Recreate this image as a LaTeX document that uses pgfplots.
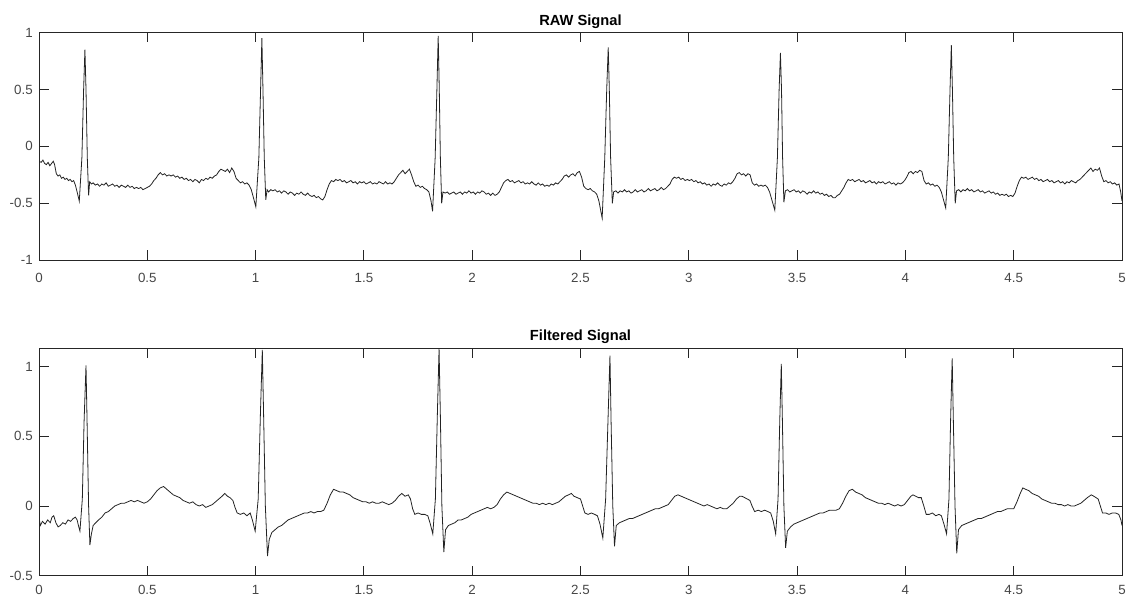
\documentclass[border=0pt]{standalone}
\usepackage{pgfplots}
\pgfplotsset{compat=1.18}
\usepackage{pgfplotstable}
\usepackage{fontspec}
\setmainfont{Liberation Sans}

\definecolor{axgray}{RGB}{38,38,38}
\definecolor{lblgray}{RGB}{70,70,70}
\definecolor{sig}{RGB}{35,35,35}

% raw ECG
\pgfplotstableread{
t y
0.000 -0.13
0.010 -0.14
0.018 -0.12
0.026 -0.15
0.034 -0.16
0.042 -0.14
0.050 -0.17
0.058 -0.15
0.066 -0.13
0.072 -0.16
0.080 -0.24
0.088 -0.26
0.096 -0.25
0.104 -0.28
0.112 -0.27
0.120 -0.29
0.128 -0.28
0.136 -0.30
0.144 -0.29
0.152 -0.31
0.160 -0.30
0.168 -0.34
0.176 -0.40
0.186 -0.48
0.198 -0.10
0.206 0.50
0.212 0.85
0.217 0.50
0.223 -0.10
0.229 -0.43
0.234 -0.31
0.242 -0.33
0.250 -0.32
0.260 -0.34
0.270 -0.33
0.280 -0.35
0.290 -0.33
0.300 -0.34
0.310 -0.32
0.320 -0.35
0.330 -0.34
0.340 -0.33
0.350 -0.35
0.360 -0.34
0.370 -0.36
0.380 -0.34
0.390 -0.35
0.400 -0.36
0.410 -0.34
0.420 -0.36
0.430 -0.35
0.440 -0.37
0.450 -0.36
0.460 -0.37
0.470 -0.36
0.480 -0.38
0.490 -0.37
0.500 -0.36
0.510 -0.35
0.520 -0.33
0.530 -0.30
0.540 -0.28
0.550 -0.25
0.560 -0.23
0.570 -0.25
0.580 -0.24
0.590 -0.26
0.600 -0.25
0.610 -0.26
0.620 -0.25
0.630 -0.27
0.640 -0.26
0.650 -0.28
0.660 -0.27
0.670 -0.29
0.680 -0.28
0.690 -0.30
0.700 -0.29
0.710 -0.31
0.720 -0.29
0.730 -0.30
0.740 -0.32
0.750 -0.29
0.760 -0.30
0.770 -0.28
0.780 -0.29
0.790 -0.27
0.800 -0.28
0.810 -0.26
0.820 -0.25
0.830 -0.22
0.840 -0.20
0.850 -0.21
0.860 -0.22
0.870 -0.20
0.880 -0.23
0.890 -0.19
0.900 -0.22
0.910 -0.28
0.920 -0.30
0.930 -0.32
0.940 -0.31
0.950 -0.33
0.960 -0.32
0.970 -0.34
0.980 -0.38
0.990 -0.45
1.001 -0.53
1.015 -0.10
1.023 0.50
1.029 0.95
1.034 0.50
1.040 -0.10
1.047 -0.47
1.053 -0.38
1.060 -0.40
1.070 -0.38
1.080 -0.39
1.090 -0.38
1.100 -0.40
1.110 -0.39
1.120 -0.41
1.130 -0.39
1.140 -0.40
1.150 -0.42
1.160 -0.40
1.170 -0.41
1.180 -0.43
1.190 -0.41
1.200 -0.42
1.210 -0.40
1.220 -0.42
1.230 -0.43
1.240 -0.41
1.250 -0.43
1.260 -0.44
1.270 -0.43
1.280 -0.45
1.290 -0.44
1.300 -0.46
1.310 -0.47
1.320 -0.44
1.330 -0.38
1.340 -0.33
1.350 -0.30
1.360 -0.31
1.370 -0.29
1.380 -0.30
1.390 -0.29
1.400 -0.31
1.410 -0.30
1.420 -0.32
1.430 -0.31
1.440 -0.30
1.450 -0.32
1.460 -0.31
1.470 -0.33
1.480 -0.31
1.490 -0.32
1.500 -0.31
1.510 -0.33
1.520 -0.32
1.530 -0.31
1.540 -0.33
1.550 -0.32
1.560 -0.33
1.570 -0.31
1.580 -0.32
1.590 -0.33
1.600 -0.31
1.610 -0.33
1.620 -0.32
1.630 -0.33
1.640 -0.31
1.650 -0.28
1.660 -0.25
1.670 -0.23
1.680 -0.21
1.690 -0.24
1.700 -0.22
1.710 -0.20
1.720 -0.25
1.730 -0.31
1.740 -0.35
1.750 -0.34
1.760 -0.36
1.770 -0.35
1.780 -0.37
1.790 -0.38
1.800 -0.40
1.810 -0.48
1.817 -0.57
1.829 -0.10
1.837 0.50
1.843 0.97
1.848 0.50
1.853 -0.10
1.859 -0.50
1.865 -0.40
1.875 -0.41
1.885 -0.40
1.895 -0.42
1.905 -0.41
1.915 -0.40
1.925 -0.42
1.935 -0.41
1.945 -0.40
1.955 -0.42
1.965 -0.40
1.975 -0.41
1.985 -0.39
1.995 -0.41
2.005 -0.40
2.015 -0.42
2.025 -0.40
2.035 -0.41
2.045 -0.39
2.055 -0.40
2.065 -0.42
2.075 -0.41
2.085 -0.43
2.095 -0.41
2.105 -0.43
2.115 -0.42
2.125 -0.40
2.135 -0.36
2.145 -0.32
2.155 -0.30
2.165 -0.29
2.175 -0.31
2.185 -0.30
2.195 -0.32
2.205 -0.31
2.215 -0.30
2.225 -0.32
2.235 -0.31
2.245 -0.33
2.255 -0.32
2.265 -0.33
2.275 -0.31
2.285 -0.33
2.295 -0.34
2.305 -0.32
2.315 -0.34
2.325 -0.33
2.335 -0.35
2.345 -0.34
2.355 -0.35
2.365 -0.33
2.375 -0.34
2.385 -0.32
2.395 -0.33
2.405 -0.31
2.415 -0.29
2.425 -0.26
2.435 -0.25
2.445 -0.27
2.455 -0.25
2.465 -0.24
2.475 -0.26
2.485 -0.23
2.495 -0.22
2.505 -0.27
2.515 -0.35
2.525 -0.37
2.535 -0.38
2.545 -0.37
2.555 -0.39
2.565 -0.40
2.575 -0.42
2.585 -0.48
2.600 -0.63
2.612 -0.10
2.621 0.50
2.628 0.87
2.633 0.50
2.639 -0.10
2.647 -0.50
2.653 -0.40
2.663 -0.39
2.673 -0.41
2.683 -0.39
2.693 -0.40
2.703 -0.38
2.713 -0.40
2.723 -0.39
2.733 -0.41
2.743 -0.40
2.753 -0.38
2.763 -0.40
2.773 -0.39
2.783 -0.38
2.793 -0.40
2.803 -0.39
2.813 -0.37
2.823 -0.39
2.833 -0.38
2.843 -0.37
2.853 -0.39
2.863 -0.38
2.873 -0.36
2.883 -0.38
2.893 -0.37
2.903 -0.35
2.913 -0.33
2.923 -0.29
2.933 -0.27
2.943 -0.28
2.953 -0.27
2.963 -0.29
2.973 -0.28
2.983 -0.30
2.993 -0.29
3.003 -0.30
3.013 -0.29
3.023 -0.31
3.033 -0.30
3.043 -0.32
3.053 -0.31
3.063 -0.33
3.073 -0.32
3.083 -0.34
3.093 -0.33
3.103 -0.35
3.113 -0.33
3.123 -0.34
3.133 -0.32
3.143 -0.34
3.153 -0.35
3.163 -0.33
3.173 -0.34
3.183 -0.32
3.193 -0.33
3.203 -0.31
3.213 -0.28
3.223 -0.24
3.233 -0.23
3.243 -0.25
3.253 -0.24
3.263 -0.26
3.273 -0.24
3.283 -0.25
3.293 -0.32
3.303 -0.34
3.313 -0.33
3.323 -0.35
3.333 -0.34
3.343 -0.35
3.353 -0.34
3.363 -0.36
3.373 -0.40
3.385 -0.48
3.397 -0.56
3.409 -0.10
3.417 0.50
3.423 0.82
3.428 0.50
3.433 -0.10
3.439 -0.49
3.446 -0.39
3.456 -0.38
3.466 -0.40
3.476 -0.39
3.486 -0.38
3.496 -0.40
3.506 -0.39
3.516 -0.41
3.526 -0.39
3.536 -0.40
3.546 -0.42
3.556 -0.40
3.566 -0.41
3.576 -0.39
3.586 -0.41
3.596 -0.40
3.606 -0.42
3.616 -0.41
3.626 -0.43
3.636 -0.42
3.646 -0.44
3.656 -0.43
3.666 -0.45
3.676 -0.45
3.686 -0.43
3.696 -0.42
3.706 -0.39
3.716 -0.36
3.726 -0.32
3.736 -0.29
3.746 -0.30
3.756 -0.29
3.766 -0.31
3.776 -0.30
3.786 -0.29
3.796 -0.31
3.806 -0.30
3.816 -0.32
3.826 -0.31
3.836 -0.30
3.846 -0.32
3.856 -0.31
3.866 -0.33
3.876 -0.31
3.886 -0.32
3.896 -0.31
3.906 -0.33
3.916 -0.32
3.926 -0.31
3.936 -0.33
3.946 -0.32
3.956 -0.34
3.966 -0.32
3.976 -0.33
3.986 -0.32
3.996 -0.30
4.006 -0.27
4.016 -0.23
4.026 -0.22
4.036 -0.24
4.046 -0.22
4.056 -0.23
4.066 -0.21
4.076 -0.22
4.086 -0.30
4.096 -0.33
4.106 -0.32
4.116 -0.34
4.126 -0.33
4.136 -0.35
4.146 -0.34
4.156 -0.36
4.166 -0.40
4.176 -0.47
4.186 -0.54
4.198 -0.10
4.206 0.50
4.212 0.89
4.217 0.50
4.223 -0.10
4.230 -0.50
4.236 -0.39
4.246 -0.38
4.256 -0.40
4.266 -0.38
4.276 -0.39
4.286 -0.37
4.296 -0.39
4.306 -0.38
4.316 -0.40
4.326 -0.39
4.336 -0.38
4.346 -0.40
4.356 -0.39
4.366 -0.41
4.376 -0.40
4.386 -0.39
4.396 -0.41
4.406 -0.40
4.416 -0.42
4.426 -0.41
4.436 -0.43
4.446 -0.42
4.456 -0.43
4.466 -0.42
4.476 -0.44
4.486 -0.43
4.496 -0.44
4.506 -0.41
4.516 -0.35
4.526 -0.30
4.536 -0.27
4.546 -0.28
4.556 -0.27
4.566 -0.29
4.576 -0.28
4.586 -0.27
4.596 -0.29
4.606 -0.28
4.616 -0.30
4.626 -0.29
4.636 -0.31
4.646 -0.30
4.656 -0.29
4.666 -0.31
4.676 -0.30
4.686 -0.32
4.696 -0.31
4.706 -0.30
4.716 -0.32
4.726 -0.31
4.736 -0.33
4.746 -0.31
4.756 -0.32
4.766 -0.30
4.776 -0.31
4.786 -0.32
4.796 -0.30
4.806 -0.29
4.816 -0.27
4.826 -0.25
4.836 -0.23
4.846 -0.21
4.856 -0.19
4.866 -0.22
4.876 -0.20
4.886 -0.21
4.896 -0.19
4.906 -0.26
4.916 -0.31
4.926 -0.30
4.936 -0.32
4.946 -0.31
4.956 -0.33
4.966 -0.32
4.976 -0.34
4.986 -0.33
4.994 -0.40
5.000 -0.48
}\rawsig

% filtered ECG
\pgfplotstableread{
t y
0.000 -0.08
0.006 -0.14
0.016 -0.11
0.028 -0.13
0.040 -0.10
0.052 -0.12
0.060 -0.08
0.068 -0.07
0.078 -0.12
0.088 -0.15
0.098 -0.14
0.110 -0.12
0.122 -0.13
0.134 -0.10
0.146 -0.11
0.158 -0.09
0.168 -0.08
0.176 -0.10
0.182 -0.14
0.189 -0.18
0.200 0.05
0.208 0.60
0.217 1.01
0.222 0.60
0.229 0.00
0.235 -0.28
0.242 -0.20
0.250 -0.14
0.262 -0.12
0.275 -0.10
0.290 -0.08
0.305 -0.05
0.320 -0.04
0.335 -0.02
0.350 0.00
0.365 0.01
0.380 0.02
0.395 0.02
0.410 0.03
0.425 0.04
0.440 0.03
0.455 0.04
0.470 0.03
0.485 0.02
0.500 0.03
0.515 0.05
0.530 0.08
0.545 0.11
0.560 0.13
0.575 0.14
0.590 0.12
0.605 0.10
0.620 0.08
0.635 0.07
0.650 0.06
0.665 0.04
0.680 0.03
0.695 0.02
0.710 0.03
0.725 0.01
0.740 0.00
0.755 0.01
0.770 -0.01
0.785 0.00
0.800 0.01
0.815 0.03
0.830 0.05
0.845 0.07
0.858 0.09
0.870 0.07
0.882 0.06
0.895 0.04
0.905 -0.01
0.915 -0.05
0.930 -0.06
0.945 -0.05
0.960 -0.07
0.975 -0.05
0.985 -0.10
0.998 -0.18
1.012 0.05
1.022 0.65
1.031 1.12
1.037 0.65
1.045 0.00
1.055 -0.36
1.063 -0.24
1.075 -0.19
1.090 -0.17
1.105 -0.15
1.120 -0.14
1.135 -0.12
1.150 -0.10
1.165 -0.09
1.180 -0.08
1.195 -0.07
1.210 -0.06
1.225 -0.05
1.240 -0.05
1.255 -0.04
1.270 -0.05
1.285 -0.04
1.300 -0.04
1.315 -0.03
1.330 0.02
1.345 0.08
1.360 0.12
1.375 0.11
1.390 0.10
1.405 0.10
1.420 0.09
1.435 0.08
1.450 0.06
1.465 0.05
1.480 0.04
1.495 0.03
1.510 0.03
1.525 0.02
1.540 0.03
1.555 0.02
1.570 0.02
1.585 0.03
1.600 0.02
1.615 0.01
1.630 0.02
1.645 0.04
1.660 0.07
1.675 0.09
1.690 0.07
1.705 0.08
1.715 0.05
1.725 -0.02
1.735 -0.06
1.750 -0.05
1.765 -0.06
1.780 -0.06
1.795 -0.07
1.805 -0.12
1.818 -0.20
1.830 0.05
1.839 0.65
1.847 1.13
1.853 0.65
1.860 0.00
1.869 -0.33
1.877 -0.17
1.890 -0.14
1.905 -0.13
1.920 -0.12
1.935 -0.10
1.950 -0.10
1.965 -0.09
1.980 -0.08
1.995 -0.06
2.010 -0.05
2.025 -0.04
2.040 -0.03
2.055 -0.02
2.070 -0.01
2.085 -0.02
2.100 -0.01
2.115 0.01
2.130 0.05
2.145 0.08
2.160 0.10
2.175 0.09
2.190 0.08
2.205 0.07
2.220 0.06
2.235 0.05
2.250 0.04
2.265 0.03
2.280 0.02
2.295 0.02
2.310 0.01
2.325 0.02
2.340 0.01
2.355 0.02
2.370 0.01
2.385 0.02
2.400 0.03
2.415 0.05
2.430 0.07
2.445 0.08
2.458 0.09
2.470 0.07
2.485 0.06
2.500 0.05
2.510 0.00
2.520 -0.05
2.535 -0.06
2.550 -0.05
2.565 -0.06
2.578 -0.07
2.590 -0.13
2.603 -0.23
2.616 0.05
2.627 0.62
2.636 1.08
2.641 0.62
2.649 0.00
2.657 -0.29
2.665 -0.14
2.680 -0.12
2.695 -0.11
2.710 -0.10
2.725 -0.09
2.740 -0.09
2.755 -0.08
2.770 -0.07
2.785 -0.06
2.800 -0.05
2.815 -0.04
2.830 -0.03
2.845 -0.02
2.860 -0.02
2.875 -0.01
2.890 0.00
2.905 0.01
2.920 0.04
2.935 0.07
2.950 0.08
2.965 0.07
2.980 0.06
2.995 0.05
3.010 0.04
3.025 0.03
3.040 0.02
3.055 0.01
3.070 0.00
3.085 0.01
3.100 0.00
3.115 -0.01
3.130 -0.02
3.145 -0.01
3.160 -0.02
3.175 -0.02
3.190 0.00
3.205 0.02
3.220 0.05
3.235 0.07
3.245 0.07
3.258 0.06
3.270 0.05
3.282 0.04
3.292 0.00
3.304 -0.04
3.320 -0.03
3.335 -0.04
3.350 -0.03
3.365 -0.04
3.378 -0.05
3.390 -0.11
3.401 -0.20
3.412 0.05
3.420 0.62
3.427 1.02
3.432 0.62
3.439 0.00
3.447 -0.30
3.455 -0.18
3.470 -0.15
3.485 -0.13
3.500 -0.12
3.515 -0.11
3.530 -0.10
3.545 -0.09
3.560 -0.08
3.575 -0.07
3.590 -0.06
3.605 -0.05
3.620 -0.05
3.635 -0.04
3.650 -0.03
3.665 -0.03
3.680 -0.03
3.695 -0.02
3.710 0.02
3.725 0.07
3.740 0.11
3.755 0.12
3.770 0.10
3.785 0.09
3.800 0.08
3.815 0.06
3.830 0.05
3.845 0.04
3.860 0.03
3.875 0.02
3.890 0.02
3.905 0.01
3.920 0.02
3.935 0.01
3.950 0.00
3.965 0.01
3.980 0.00
3.995 0.01
4.010 0.04
4.025 0.07
4.035 0.08
4.048 0.07
4.060 0.06
4.073 0.06
4.085 0.00
4.096 -0.06
4.110 -0.06
4.125 -0.05
4.140 -0.07
4.155 -0.06
4.166 -0.07
4.178 -0.13
4.190 -0.20
4.201 0.05
4.209 0.64
4.216 1.06
4.221 0.64
4.229 0.00
4.237 -0.34
4.245 -0.17
4.260 -0.14
4.275 -0.13
4.290 -0.12
4.305 -0.11
4.320 -0.10
4.335 -0.09
4.350 -0.09
4.365 -0.08
4.380 -0.07
4.395 -0.06
4.410 -0.05
4.425 -0.04
4.440 -0.04
4.455 -0.03
4.470 -0.02
4.485 -0.02
4.500 -0.02
4.515 0.03
4.530 0.09
4.542 0.13
4.555 0.12
4.570 0.11
4.585 0.09
4.600 0.08
4.615 0.07
4.630 0.05
4.645 0.04
4.660 0.03
4.675 0.02
4.690 0.02
4.705 0.01
4.720 0.01
4.735 0.00
4.750 0.01
4.765 0.00
4.780 0.00
4.795 0.01
4.810 0.02
4.825 0.04
4.840 0.06
4.858 0.08
4.870 0.07
4.880 0.06
4.890 0.05
4.900 0.00
4.910 -0.05
4.925 -0.05
4.940 -0.06
4.955 -0.05
4.970 -0.05
4.985 -0.06
4.995 -0.10
5.000 -0.14
}\filtsig

\pgfplotsset{
  ecg/.style={
    scale only axis,
    width=812.25pt,
    xmin=0, xmax=5,
    xtick={0,0.5,1,1.5,2,2.5,3,3.5,4,4.5,5},
    xticklabels={0,0.5,1,1.5,2,2.5,3,3.5,4,4.5,5},
    axis line style={axgray, line width=0.7pt},
    major tick length=7.5pt,
    tick style={axgray, line width=0.7pt},
    ticklabel style={font=\fontsize{10}{12}\selectfont, text=lblgray},
    yticklabel style={xshift=-1.2pt},
    every axis title shift=0pt,
    title style={at={(0.5,1)}, anchor=base, yshift=5.6pt,
      font=\bfseries\fontsize{11}{13}\selectfont, text=black},
  },
  ecgline/.style={sig, line width=0.6pt, mark=none},
}

\begin{document}
\begin{tikzpicture}
\useasboundingbox (0,0) rectangle (844.5pt,-446.25pt);

\begin{axis}[ecg,
  at={(29.25pt,-24.375pt)}, anchor=north west,
  height=170.85pt,
  ymin=-1, ymax=1,
  ytick={-1,-0.5,0,0.5,1},
  yticklabels={-1,-0.5,0,0.5,1},
  xticklabel style={yshift=-6pt},
  title={RAW Signal},
]
\addplot[ecgline] table[x=t, y=y] {\rawsig};
\end{axis}

\begin{axis}[ecg,
  at={(29.25pt,-261.2pt)}, anchor=north west,
  height=170.55pt,
  ymin=-0.5, ymax=1.132,
  ytick={-0.5,0,0.5,1},
  yticklabels={-0.5,0,0.5,1},
  xticklabel style={yshift=-3.5pt},
  title={Filtered Signal},
]
\addplot[ecgline] table[x=t, y=y] {\filtsig};
\end{axis}
\end{tikzpicture}
\end{document}
